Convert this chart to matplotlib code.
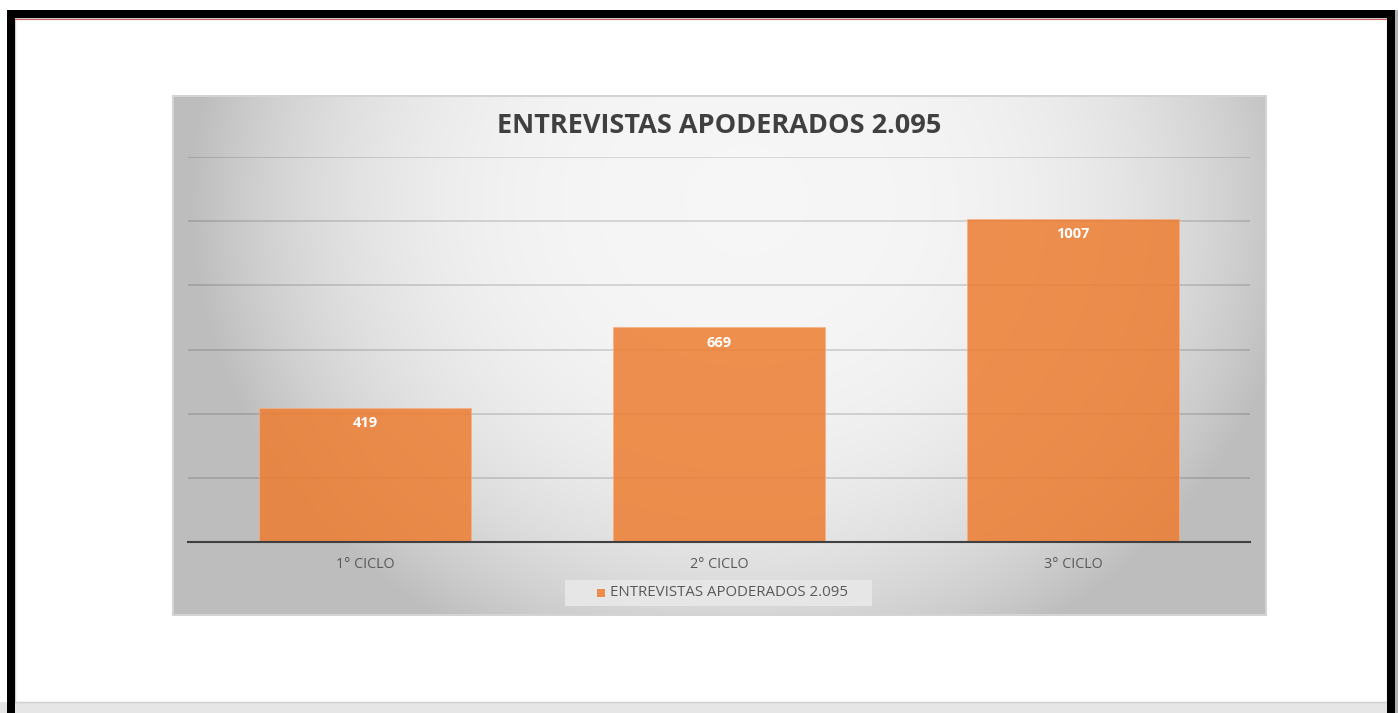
import numpy as np
import matplotlib
matplotlib.use("Agg")
import matplotlib.pyplot as plt
from matplotlib.patches import Rectangle

categories = ["1° CICLO", "2° CICLO", "3° CICLO"]
values = [419, 669, 1007]
series_name = "ENTREVISTAS APODERADOS 2.095"
title = "ENTREVISTAS APODERADOS 2.095"

plt.rcParams['font.family'] = ['Open Sans', 'DejaVu Sans']

W, H = 1398, 713
fig = plt.figure(figsize=(W / 100, H / 100), dpi=100)
fig.patch.set_facecolor("white")

def fx(px):
    return px / W

def fy(py):
    return 1 - py / H

# page frame
fig.patches.append(Rectangle((0, 0), 1, fy(702), transform=fig.transFigure, facecolor="#e6e6e6", edgecolor="none", zorder=-5))
fig.patches.append(Rectangle((fx(15), fy(702)), fx(1387 - 15), fy(18) - fy(702), transform=fig.transFigure, facecolor="white", edgecolor="#cfcfcf", lw=1, zorder=-4))
fig.patches.append(Rectangle((fx(7), 0), fx(8), fy(10), transform=fig.transFigure, facecolor="black", edgecolor="none", zorder=-3))
fig.patches.append(Rectangle((fx(1387), 0), fx(8), fy(10), transform=fig.transFigure, facecolor="black", edgecolor="none", zorder=-3))
fig.patches.append(Rectangle((fx(1395), 0), fx(3), fy(10), transform=fig.transFigure, facecolor="#b0b0b0", edgecolor="none", zorder=-3))
fig.patches.append(Rectangle((fx(7), fy(18)), fx(1395 - 7), fy(10) - fy(18), transform=fig.transFigure, facecolor="black", edgecolor="none", zorder=-3))
fig.lines.append(plt.Line2D([fx(15), fx(1387)], [fy(18.5), fy(18.5)], transform=fig.transFigure, color="#d06060", lw=0.8, zorder=-3))

# chart area gradient
bg = fig.add_axes([fx(173), fy(615), fx(1266 - 173), fy(96) - fy(615)])
bg.set_zorder(1)
bg.set_axis_off()
nx, ny = 500, 250
uu, vv = np.meshgrid(np.linspace(-1, 1, nx), np.linspace(-1, 1, ny))
r = np.sqrt(((uu - 0.05) / 1.0) ** 2 + ((vv + 0.6) / 1.9) ** 2)
g = 0.965 - 0.21 * r ** 3
g = np.clip(g, 0.745, 1)
img = np.dstack([g, g, g])
bg.imshow(img, aspect="auto", extent=[0, 1, 0, 1], origin="upper", interpolation="bilinear")
bg.set_xlim(0, 1)
bg.set_ylim(0, 1)
bg.add_patch(Rectangle((0, 0), 1, 1, transform=bg.transAxes, facecolor="none", edgecolor="#d4d4d4", lw=1.5, clip_on=False))

# plot axes
ax = fig.add_axes([fx(188), fy(542), fx(1250 - 188), fy(157) - fy(542)])
ax.set_zorder(2)
ax.patch.set_alpha(0)
x = np.arange(len(categories))
ax.set_xlim(-0.5, len(categories) - 0.5)
ax.set_ylim(0, 1200)
ax.set_yticks(np.arange(0, 1201, 200))
ax.yaxis.grid(True, color="black", alpha=0.17, lw=1.1)
ax.set_axisbelow(True)
for s in ["top", "right", "left"]:
    ax.spines[s].set_visible(False)
ax.spines["bottom"].set_color("#404040")
ax.spines["bottom"].set_linewidth(1.5)
ax.spines["bottom"].set_zorder(5)
ax.tick_params(axis="y", left=False, labelleft=False)
ax.tick_params(axis="x", bottom=False, labelsize=10.3, labelcolor="#595959", pad=7.5)
ax.set_xticks(x)
ax.set_xticklabels(categories)

bars = ax.bar(x, values, width=0.6, color="#ED7D31", alpha=0.85, edgecolor="#f4b183", linewidth=0.6, label=series_name, zorder=3)
for xi, v in zip(x, values):
    ax.annotate(str(v), (xi, v), xytext=(0, -15.5 * 0.72), textcoords="offset points",
                ha="center", va="center", color="white", fontsize=10.5, fontweight="bold", zorder=6)

ax.text(fx(719), fy(126), title, transform=fig.transFigure, ha="center", va="center",
        fontsize=19.5, fontweight="bold", color="#404040")

# legend (drawn in figure coordinates)
ax.add_patch(Rectangle((fx(565), fy(606)), fx(872 - 565), fy(580) - fy(606), transform=fig.transFigure,
                       facecolor="#e6e6e6", edgecolor="none", clip_on=False, zorder=7))
ax.add_patch(Rectangle((fx(597), fy(597)), fx(8), fy(589) - fy(597), transform=fig.transFigure,
                       facecolor=bars.patches[0].get_facecolor(), edgecolor="none", clip_on=False, zorder=8))
ax.text(fx(610), fy(593), series_name, transform=fig.transFigure, ha="left", va="center",
        fontsize=10.8, color="#595959", zorder=8)

fig.savefig("out.png", dpi=100)
